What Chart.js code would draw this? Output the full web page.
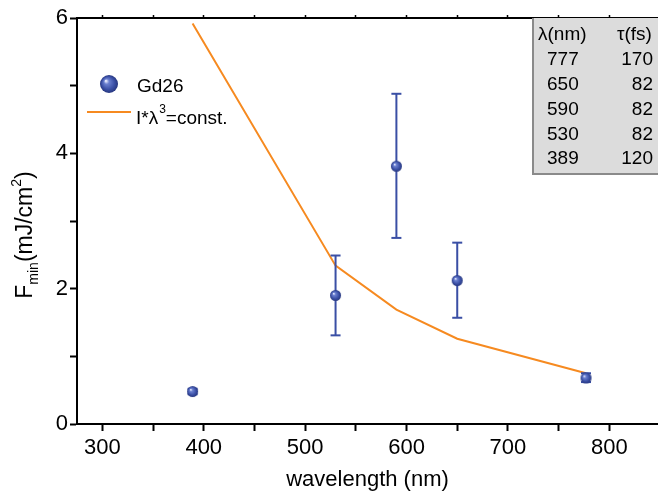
<!DOCTYPE html>
<html>
<head>
<meta charset="utf-8">
<script src="https://cdn.jsdelivr.net/npm/chart.js@4/dist/chart.umd.min.js"></script>
<style>
  html, body { margin: 0; padding: 0; background: #fff; }
  #wrap { width: 658px; height: 497px; }
</style>
</head>
<body>
<div id="wrap"><canvas id="fminChart" width="658" height="497"></canvas></div>
<script>
/* Data */
const wavelengths = [389, 530, 590, 650, 777];
const fluence = [0.48, 1.90, 3.81, 2.12, 0.68];
const fluenceLow = [0.44, 1.31, 2.75, 1.57, 0.62];
const fluenceHigh = [0.52, 2.49, 4.88, 2.68, 0.75];
const scalingLine = [5.92, 2.34, 1.69, 1.26, 0.75];

// pulse table (top right box)
const tableLambda = ['777', '650', '590', '530', '389'];
const tableTau = ['170', '82', '82', '82', '120'];

const blue = '#3a4fa5';
const orange = '#f68a20';
const fontFamily = "'Liberation Sans', Arial, sans-serif";

// shaded sphere used as point marker
function makeSphere(r) {
  const c = document.createElement('canvas');
  c.width = c.height = Math.ceil(r * 2) + 2;
  const g = c.getContext('2d');
  const cx = c.width / 2, cy = c.height / 2;
  const grad = g.createRadialGradient(cx - r * 0.35, cy - r * 0.35, r * 0.05, cx, cy, r);
  grad.addColorStop(0, '#e8ecff');
  grad.addColorStop(0.25, '#6a7fcf');
  grad.addColorStop(0.7, '#3a4fa5');
  grad.addColorStop(1, '#26367e');
  g.fillStyle = grad;
  g.beginPath();
  g.arc(cx, cy, r, 0, Math.PI * 2);
  g.fill();
  return c;
}
const sphereSmall = makeSphere(5.5);
const sphereLegend = makeSphere(9);

// error bars: one dataset, segments split by null points
const errorBarData = [];
wavelengths.forEach((w, i) => {
  errorBarData.push({ x: w, y: fluenceLow[i] });
  errorBarData.push({ x: w, y: fluenceHigh[i] });
  errorBarData.push({ x: w, y: null });
});

// custom drawing: y title with sub/superscript, legend, table
const extrasPlugin = {
  id: 'extras',
  afterDraw(chart) {
    const ctx = chart.ctx;
    ctx.save();

    // y axis title
    const big = '23px ' + fontFamily;
    const small = '14px ' + fontFamily;
    const parts = [
      { t: 'F', f: big, dy: 0 },
      { t: 'min', f: small, dy: 6 },
      { t: '(mJ/cm', f: big, dy: 0 },
      { t: '2', f: small, dy: -11 },
      { t: ')', f: big, dy: 0 }
    ];
    let total = 0;
    parts.forEach(p => { ctx.font = p.f; p.w = ctx.measureText(p.t).width; total += p.w; });
    ctx.translate(32, 235);
    ctx.rotate(-Math.PI / 2);
    ctx.fillStyle = '#000';
    ctx.textBaseline = 'alphabetic';
    let px = -total / 2;
    parts.forEach(p => { ctx.font = p.f; ctx.fillText(p.t, px, p.dy); px += p.w; });
    ctx.setTransform(1, 0, 0, 1, 0, 0);

    // legend
    ctx.drawImage(sphereLegend, 109 - sphereLegend.width / 2, 84 - sphereLegend.height / 2);
    ctx.font = '19px ' + fontFamily;
    ctx.textBaseline = 'alphabetic';
    ctx.fillText('Gd26', 137, 92);
    ctx.strokeStyle = orange;
    ctx.lineWidth = 2;
    ctx.beginPath();
    ctx.moveTo(87, 112);
    ctx.lineTo(131, 112);
    ctx.stroke();
    let lx = 136;
    ctx.fillText('I*λ', lx, 124);
    lx += ctx.measureText('I*λ').width;
    ctx.font = '12px ' + fontFamily;
    ctx.fillText('3', lx + 1, 113);
    lx += ctx.measureText('3').width + 1;
    ctx.font = '19px ' + fontFamily;
    ctx.fillText('=const.', lx, 124);

    // pulse table
    const area = chart.chartArea;
    const bx = 533, by = area.top, bw = 658 - bx, bh = 174 - area.top;
    ctx.fillStyle = '#dcdcdc';
    ctx.fillRect(bx, by, bw, bh);
    ctx.strokeStyle = '#8a8a8a';
    ctx.lineWidth = 2;
    ctx.beginPath();
    ctx.moveTo(bx, by);
    ctx.lineTo(bx, by + bh);
    ctx.lineTo(658, by + bh);
    ctx.stroke();
    ctx.fillStyle = '#000';
    ctx.font = '19px ' + fontFamily;
    ctx.textBaseline = 'middle';
    ctx.textAlign = 'left';
    ctx.fillText('λ(nm)', 538, 35);
    ctx.fillText('τ(fs)', 617, 35);
    tableLambda.forEach((v, i) => {
      const ty = 60 + i * 24.8;
      ctx.textAlign = 'left';
      ctx.fillText(v, 547, ty);
      ctx.textAlign = 'right';
      ctx.fillText(tableTau[i], 653, ty);
    });

    ctx.restore();
  }
};

const ctxFmin = document.getElementById('fminChart').getContext('2d');

const fminChart = new Chart(ctxFmin, {
  type: 'scatter',
  data: {
    datasets: [
      {
        label: 'I*λ³=const.',
        data: wavelengths.map((w, i) => ({ x: w, y: scalingLine[i] })),
        showLine: true,
        borderColor: orange,
        borderWidth: 2,
        pointRadius: 0,
        order: 3
      },
      {
        label: 'errors',
        data: errorBarData,
        showLine: true,
        spanGaps: false,
        borderColor: blue,
        borderWidth: 2,
        pointStyle: 'line',
        pointRadius: 5,
        pointBorderColor: blue,
        pointBorderWidth: 2,
        order: 2
      },
      {
        label: 'Gd26',
        data: wavelengths.map((w, i) => ({ x: w, y: fluence[i] })),
        pointStyle: sphereSmall,
        pointRadius: 6,
        order: 1
      }
    ]
  },
  options: {
    responsive: false,
    animation: false,
    layout: { padding: 0, autoPadding: false },
    plugins: {
      legend: { display: false },
      tooltip: { enabled: false }
    },
    scales: {
      x: {
        type: 'linear',
        position: 'bottom',
        min: 275,
        max: 848,
        afterFit: (scale) => { scale.height = 73; },
        border: { color: '#000', width: 2 },
        grid: {
          drawOnChartArea: false,
          drawTicks: true,
          tickLength: 7,
          tickWidth: 2,
          tickColor: '#000'
        },
        ticks: {
          stepSize: 50,
          includeBounds: false,
          maxRotation: 0,
          autoSkip: false,
          padding: 4,
          color: '#000',
          font: { family: fontFamily, size: 22 },
          callback: (v) => (v % 100 === 0 ? v : '')
        },
        title: {
          display: true,
          text: 'wavelength (nm)',
          color: '#000',
          font: { family: fontFamily, size: 22 },
          padding: { top: 2 }
        }
      },
      xTop: {
        type: 'linear',
        position: 'top',
        min: 275,
        max: 848,
        afterFit: (scale) => { scale.height = 18; },
        border: { color: '#000', width: 2 },
        grid: {
          drawOnChartArea: false,
          tickLength: 3,
          tickWidth: 1.5,
          tickColor: '#000'
        },
        ticks: { display: false, stepSize: 50, includeBounds: false }
      },
      y: {
        type: 'linear',
        position: 'left',
        min: 0,
        max: 6,
        afterFit: (scale) => { scale.width = 77; },
        border: { color: '#000', width: 2 },
        grid: {
          drawOnChartArea: false,
          tickLength: 7,
          tickWidth: 2,
          tickColor: '#000'
        },
        ticks: {
          stepSize: 1,
          includeBounds: false,
          padding: 2,
          color: '#000',
          font: { family: fontFamily, size: 22 },
          callback: (v) => (v % 2 === 0 ? v : '')
        }
      }
    }
  },
  plugins: [extrasPlugin]
});
</script>
</body>
</html>
